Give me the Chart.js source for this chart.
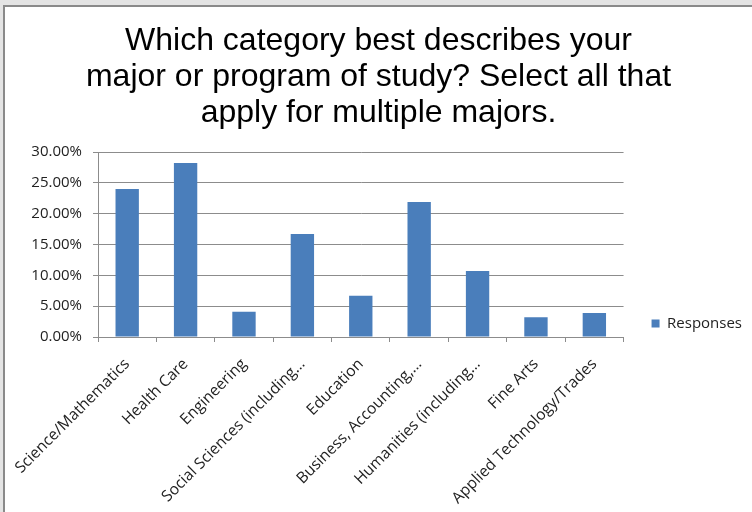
<!DOCTYPE html>
<html>
<head>
<meta charset="utf-8">
<script src="https://cdn.jsdelivr.net/npm/chart.js@4.4.1/dist/chart.umd.min.js"></script>
<style>
  html, body { margin: 0; padding: 0; background: #e4e4e4; width: 752px; height: 512px; overflow: hidden; }
  #frame { position: absolute; left: 3px; top: 5px; width: 749px; height: 507px;
           border-left: 2px solid #8a8a8a; border-top: 2px solid #8a8a8a; background: #ffffff; box-sizing: border-box; }
  canvas { display: block; }
</style>
</head>
<body>
<div id="frame"><canvas id="c" width="747" height="505"></canvas></div>
<script>
const titleLines = [
  "Which category best describes your",
  "major or program of study? Select all that",
  "apply for multiple majors."
];
const categories = [
  "Science/Mathematics",
  "Health Care",
  "Engineering",
  "Social Sciences (including…",
  "Education",
  "Business, Accounting,…",
  "Humanities (including…",
  "Fine Arts",
  "Applied Technology/Trades"
];
const seriesName = "Responses";
const responses = [24.0, 28.2, 4.1, 16.7, 6.7, 21.9, 10.7, 3.2, 3.9];
const yMin = 0, yMax = 30, yStep = 5;

const tickFont = { family: "'Open Sans', sans-serif", size: 15 };
const xTickFont = { family: "'Open Sans', sans-serif", size: 15.6 };
const gridColor = '#8c8c8c';

new Chart(document.getElementById('c'), {
  type: 'bar',
  data: {
    labels: categories,
    datasets: [{
      label: seriesName,
      data: responses,
      backgroundColor: '#4a7ebb',
      borderWidth: 0,
      barPercentage: 0.4,
      categoryPercentage: 1.0
    }]
  },
  options: {
    responsive: false,
    devicePixelRatio: 1,
    animation: false,
    layout: { padding: 0 },
    plugins: {
      title: {
        display: true,
        text: titleLines,
        color: '#000000',
        font: { family: "'Liberation Sans', Arial, sans-serif", size: 32, weight: 'normal', lineHeight: 1.125 },
        padding: { top: 16, bottom: 21 }
      },
      legend: {
        display: true,
        position: 'right',
        align: 'end',
        fullSize: false,
        labels: {
          boxWidth: 8,
          boxHeight: 8,
          padding: 6,
          color: '#222222',
          font: tickFont
        }
      },
      tooltip: { enabled: false }
    },
    scales: {
      x: {
        grid: { display: true, drawOnChartArea: false, drawTicks: true, tickLength: 5, color: gridColor, offset: true },
        border: { display: true, color: gridColor },
        ticks: { autoSkip: false, maxRotation: 45, minRotation: 45, color: '#222222', font: xTickFont, padding: 13 },
        afterFit(s) { s.height = 175; s.paddingLeft = 0; s.paddingRight = 0; }
      },
      y: {
        min: yMin, max: yMax,
        grid: { color: gridColor, tickLength: 5, drawTicks: true },
        border: { display: true, color: gridColor },
        ticks: { stepSize: yStep, color: '#222222', font: tickFont, padding: 11,
                 callback: v => Number(v).toFixed(2) + '%' },
        afterFit(s) { s.width = 93; }
      },
      yGap: {
        position: 'right',
        display: true,
        grid: { display: false },
        border: { display: false },
        ticks: { display: false },
        afterFit(s) { s.width = 22; }
      }
    }
  }
});
</script>
</body>
</html>
